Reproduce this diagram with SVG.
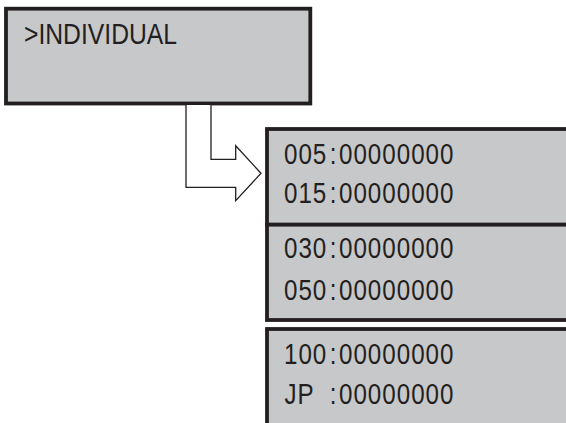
<svg xmlns="http://www.w3.org/2000/svg" width="566" height="423" viewBox="0 0 566 423">
<style>
.box{fill:#c7c8ca;stroke:#231f20;stroke-width:3.8}
.lcd{font-family:"Liberation Sans",Arial,sans-serif;font-size:29.5px;fill:#231f20}
.num{letter-spacing:1.2px}
.conn{fill:#fff;stroke:#231f20;stroke-width:1.3;stroke-linejoin:miter}
</style>
<rect width="566" height="423" fill="#fff"/>
<g id="menu">
<rect class="box" x="6" y="8.7" width="304.3" height="94.8"/>
<text class="lcd" x="24" y="44" textLength="153" lengthAdjust="spacingAndGlyphs">&gt;INDIVIDUAL</text>
</g>
<g id="connectors">
<polyline class="conn" points="186,105 186,187.3 235.7,187.3 235.7,200.7 261,173.3 235.7,145.7 235.7,159.3 211,159.3 211,105"/>
</g>
<g id="page1">
<rect class="box" x="267" y="129" width="320" height="95.7"/>
<g transform="scale(0.82,1)">
<text class="lcd num" y="164"><tspan x="346.3">005</tspan><tspan x="402">:</tspan><tspan x="413.4">00000000</tspan></text>
<text class="lcd num" y="203.5"><tspan x="346.3">015</tspan><tspan x="402">:</tspan><tspan x="413.4">00000000</tspan></text>
</g>
</g>
<g id="page2">
<rect class="box" x="267" y="224.7" width="320" height="95.3"/>
<g transform="scale(0.82,1)">
<text class="lcd num" y="258.5"><tspan x="346.3">030</tspan><tspan x="402">:</tspan><tspan x="413.4">00000000</tspan></text>
<text class="lcd num" y="300"><tspan x="346.3">050</tspan><tspan x="402">:</tspan><tspan x="413.4">00000000</tspan></text>
</g>
</g>
<g id="page3">
<rect class="box" x="267" y="329" width="320" height="120"/>
<g transform="scale(0.82,1)">
<text class="lcd num" y="364.3"><tspan x="346.3">100</tspan><tspan x="402">:</tspan><tspan x="413.4">00000000</tspan></text>
<text class="lcd num" y="404.3"><tspan x="347">JP </tspan><tspan x="402">:</tspan><tspan x="413.4">00000000</tspan></text>
</g>
</g>
</svg>
